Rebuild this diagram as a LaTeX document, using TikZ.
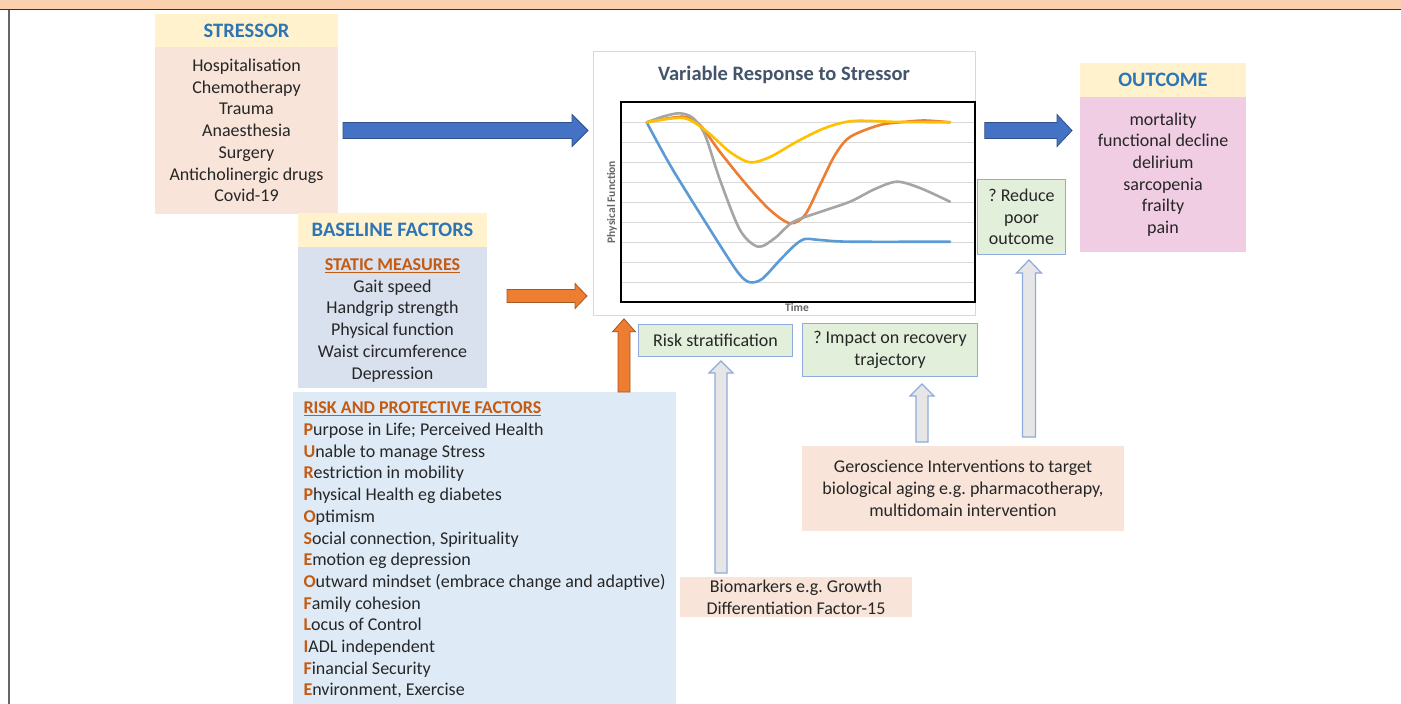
\documentclass[tikz,border=0pt]{standalone}
\usepackage{fontspec}
\setmainfont{Carlito}
\usepackage{tikz}
\usetikzlibrary{positioning,calc}

\definecolor{strip}{HTML}{FBD0AE}
\definecolor{cream}{HTML}{FFF2CC}
\definecolor{peach}{HTML}{F8E4D8}
\definecolor{pinkb}{HTML}{F1CDE4}
\definecolor{greyb}{HTML}{D9E0EE}
\definecolor{lblue}{HTML}{DEEBF7}
\definecolor{lgreen}{HTML}{E2EFDA}
\definecolor{nblue}{HTML}{8FAADC}
\definecolor{hblue}{HTML}{2E75B6}
\definecolor{capc}{HTML}{C55A11}
\definecolor{slate}{HTML}{44546A}
\definecolor{ablue}{HTML}{4472C4}
\definecolor{aorange}{HTML}{ED7D31}
\definecolor{agrey}{HTML}{E7E6E6}
\definecolor{sblue}{HTML}{5B9BD5}
\definecolor{sorange}{HTML}{ED7D31}
\definecolor{sgrey}{HTML}{A5A5A5}
\definecolor{syellow}{HTML}{FFC000}

% first letter of each factor
\newcommand{\ini}[1]{\textcolor{capc}{\textbf{#1}}}

% block arrows: style, from, to, half shaft, half head, head length
\newcommand{\rarrow}[6]{\filldraw[#1] let \p1=(#2), \p2=(#3) in
  (\x1,\y1+#4) -- (\x2-#6,\y1+#4) -- (\x2-#6,\y1+#5) -- (\x2,\y1)
  -- (\x2-#6,\y1-#5) -- (\x2-#6,\y1-#4) -- (\x1,\y1-#4) -- cycle;}
\newcommand{\uarrow}[6]{\filldraw[#1] let \p1=(#2), \p2=(#3) in
  (\x1-#4,\y1) -- (\x1-#4,\y2-#6) -- (\x1-#5,\y2-#6) -- (\x1,\y2)
  -- (\x1+#5,\y2-#6) -- (\x1+#4,\y2-#6) -- (\x1+#4,\y1) -- cycle;}

\begin{document}
\frenchspacing
\begin{tikzpicture}[x=1pt, y=-1pt, node distance=0pt, text=black!85,
  font=\fontsize{18}{21.7}\selectfont]
\tikzstyle{head}=[fill=cream, text=hblue, font=\fontsize{20.5}{22}\selectfont\bfseries, inner sep=0pt, outer sep=0pt]
\tikzstyle{body}=[inner sep=0pt, outer sep=0pt, align=flush center]
\tikzstyle{note}=[fill=lgreen, draw=nblue, line width=1pt, inner sep=0pt, align=flush center]
\tikzstyle{axis}=[text=black!60, font=\fontsize{11.5}{13}\selectfont\bfseries]
\tikzstyle{curve}=[line width=2.6pt, line cap=round, line join=round]
\tikzstyle{barrow}=[fill=ablue, draw=ablue!70!black, line width=0.8pt]
\tikzstyle{oarrow}=[fill=aorange, draw=aorange!70!black, line width=0.8pt]
\tikzstyle{garrow}=[fill=agrey, draw=nblue, line width=1.2pt]

\useasboundingbox (0,0) rectangle (1401,704);
\fill[white] (0,0) rectangle (1401,704);
\fill[strip] (0,0) rectangle (1401,9);
\draw[line width=1.2pt, black!80] (0,9.5) -- (1401,9.5);
\draw[line width=2pt, black!60] (8.5,10) -- (8.5,704);

% stressor
\node[head, anchor=north west, minimum width=183, minimum height=33] (Sh) at (155,14) {STRESSOR};
\node[body, fill=peach, text width=183, minimum height=167, below=of Sh] (Sb)
  {Hospitalisation\\Chemotherapy\\Trauma\\Anaesthesia\\Surgery\\Anticholinergic drugs\\Covid-19};

% chart
\node[draw=black!15, fill=white, line width=0.8pt, anchor=north west, minimum width=382, minimum height=264, inner sep=0pt] (C) at (593,51) {};
\node[text=slate, font=\fontsize{20.5}{22}\selectfont\bfseries] (Ct) at (784,75) {Variable Response to Stressor};
\foreach \y in {122,142,...,282}
  \draw[black!15, line width=0.8pt] (621,\y) -- (975,\y);
\node[axis, rotate=90] (yl) at (612,202) {Physical Function};
\node[axis] (xl) at (797,308) {Time};
\draw[curve, sblue] plot[smooth, tension=0.5] coordinates {(646.7,122.3) (673,170) (723,250) (740,275) (750,282.3) (762,279) (780,260) (795,245) (805,239) (820,240) (850,241.7) (950,241.7)};
\draw[curve, sorange] plot[smooth, tension=0.5] coordinates {(646.7,122.3) (683,116.7) (700,125) (720,152) (746.7,185) (770,210) (790,223.3) (805,215) (820,185) (835,155) (850,137) (880,125) (906.7,121.7) (925,120.5) (950,122.3)};
\draw[curve, sgrey] plot[smooth, tension=0.5] coordinates {(646.7,122.3) (665,116) (680,113.3) (693,118) (705,135) (720,180) (740,230) (758,246.7) (775,238) (793,222) (820,212) (850,201.7) (875,189) (897,181.7) (920,188) (950,201.7)};
\draw[curve, syellow] plot[smooth, tension=0.5] coordinates {(646.7,122.3) (683,118) (705,130) (730,152) (750,162.3) (770,157) (796.7,141.7) (825,128) (853,121) (900,122) (950,122.3)};
\draw[line width=2.6pt] (621,102) rectangle (975,302);

% outcome
\node[head, anchor=north west, minimum width=166, minimum height=34] (Oh) at (1080,63) {OUTCOME};
\node[body, fill=pinkb, text width=166, minimum height=155, below=of Oh] (Ob)
  {mortality\\functional decline\\delirium\\sarcopenia\\frailty\\pain};
\node[note, anchor=north west, text width=88, minimum height=75] (R) at (977,179) {? Reduce\\poor\\outcome};

% baseline factors
\node[head, anchor=north west, minimum width=189, minimum height=34] (Bh) at (298,213) {BASELINE FACTORS};
\node[body, fill=greyb, text width=189, minimum height=141, below=of Bh] (Bb)
  {\rule{0pt}{17.5pt}\textcolor{capc}{\textbf{\underline{STATIC MEASURES}}}\\Gait speed\\Handgrip strength\\Physical function\\Waist circumference\\Depression};

% risk and protective factors
\node[body, fill=lblue, anchor=north west, align=left, minimum width=383, inner ysep=10pt] (Rk) at (293,392)
  {\textcolor{capc}{\textbf{\underline{RISK AND PROTECTIVE FACTORS}}}\\
   \ini{P}urpose in Life; Perceived Health\\
   \ini{U}nable to manage Stress\\
   \ini{R}estriction in mobility\\
   \ini{P}hysical Health eg diabetes\\
   \ini{O}ptimism\\
   \ini{S}ocial connection, Spirituality\\
   \ini{E}motion eg depression\\
   \ini{O}utward mindset (embrace change and adaptive)\\
   \ini{F}amily cohesion\\
   \ini{L}ocus of Control\\
   \ini{I}ADL independent\\
   \ini{F}inancial Security\\
   \ini{E}nvironment, Exercise};

% effects on the response
\node[note, anchor=north west, minimum width=154, minimum height=32] (RS) at (638,324) {Risk stratification};
\node[note, anchor=north west, minimum width=175, minimum height=53] (IR) at (802,323) {? Impact on recovery\\trajectory};
\node[body, fill=peach, anchor=north west, minimum width=232, minimum height=40] (Bio) at (680,577)
  {Biomarkers e.g. Growth\\Differentiation Factor-15};
\node[body, fill=peach, anchor=north west, minimum width=322, minimum height=85] (G) at (802,446)
  {Geroscience Interventions to target\\biological aging e.g. pharmacotherapy,\\multidomain intervention};

% arrows
\coordinate (a1) at ($(Sb.east)+(5,0)$);
\coordinate (a1e) at ($(Sb.east -| C.west)+(-5,0)$);
\coordinate (a2) at ($(C.east |- Sb.east)+(9,0)$);
\coordinate (a2e) at ($(Ob.west |- a2)+(-8,0)$);
\coordinate (a3) at ($(Bb.east)+(20,-21.5)$);
\coordinate (a3e) at ($(C.west |- a3)+(-6,0)$);
\coordinate (a4) at ($(Rk.north west)+(331,0)$);
\coordinate (a4e) at ($(a4 |- C.south)+(0,3)$);
\coordinate (g1) at ($(Bio.north west)+(41,-4)$);
\coordinate (g1e) at ($(g1 |- RS.south)+(0,4)$);
\coordinate (g2) at ($(G.north west)+(120,-4)$);
\coordinate (g2e) at ($(g2 |- IR.south)+(0,7)$);
\coordinate (g3) at ($(G.north east)+(-95,-9)$);
\coordinate (g3e) at ($(g3 |- R.south)+(0,5)$);

\rarrow{barrow}{a1}{a1e}{8pt}{16pt}{16pt}
\rarrow{barrow}{a2}{a2e}{8pt}{16pt}{15pt}
\rarrow{oarrow}{a3}{a3e}{6.5pt}{12.5pt}{12pt}
\uarrow{oarrow}{a4}{a4e}{6pt}{11.5pt}{13pt}
\uarrow{garrow}{g1}{g1e}{6pt}{12pt}{12pt}
\uarrow{garrow}{g2}{g2e}{6pt}{12pt}{12pt}
\uarrow{garrow}{g3}{g3e}{6.5pt}{12.5pt}{13pt}

\end{tikzpicture}
\end{document}
